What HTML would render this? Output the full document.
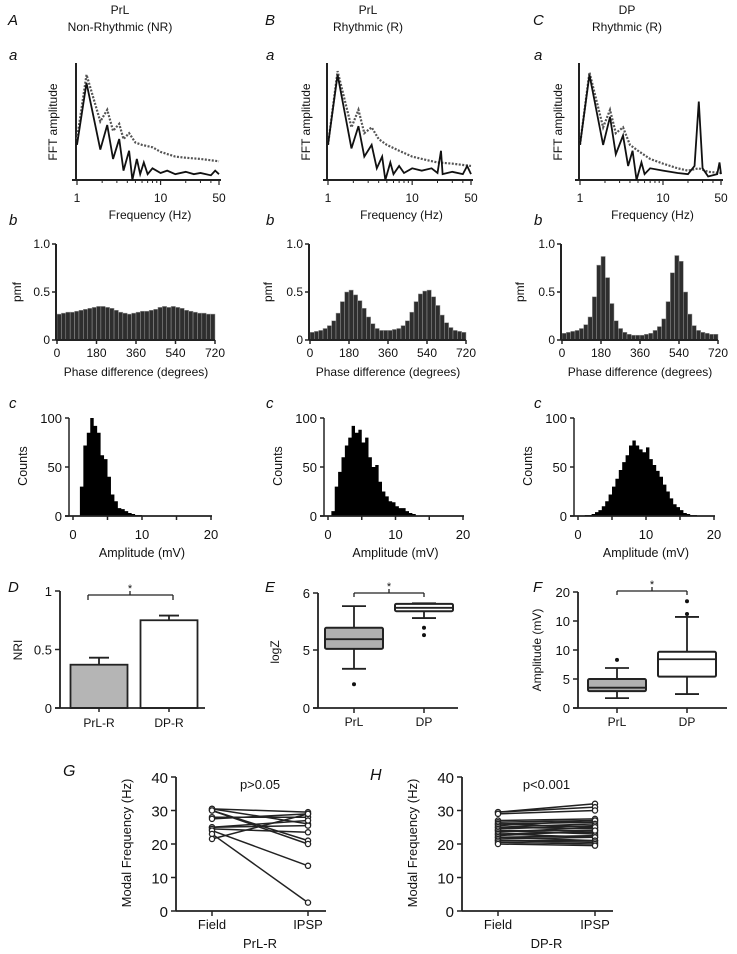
<!DOCTYPE html>
<html><head><meta charset="utf-8">
<style>
html,body{margin:0;padding:0;background:#fff;}
svg{display:block;font-family:"Liberation Sans",Arial,sans-serif;}
</style></head>
<body>
<svg id="fig" width="737" height="954" viewBox="0 0 737 954" xmlns="http://www.w3.org/2000/svg"></svg>
<script>
// ---------------- DATA ----------------
const fftFreqA = [1,1.3,1.9,2.3,2.7,3.2,3.6,4.2,4.6,5.2,5.7,6.3,7,8,10,12,15,20,25,30,40,45,50];
const fftSolidA = [0.3,0.83,0.26,0.47,0.18,0.35,0.08,0.25,0.0,0.18,0.05,0.15,0.05,0.1,0.06,0.08,0.05,0.07,0.05,0.06,0.04,0.08,0.05];
const fftDotFreqA = [1,1.3,1.9,2.3,2.7,3.2,3.6,4.2,5,6,8,10,15,20,30,50];
const fftDotA = [0.35,0.9,0.5,0.6,0.42,0.48,0.35,0.4,0.32,0.3,0.28,0.24,0.2,0.19,0.18,0.16];

const fftFreqB = [1,1.3,1.9,2.3,2.7,3.3,3.8,4.4,4.8,5.5,6,7,8,10,13,17,20,22,23,30,40,45,50];
const fftSolidB = [0.3,0.9,0.27,0.46,0.2,0.3,0.1,0.2,0.0,0.15,0.05,0.12,0.06,0.1,0.08,0.1,0.06,0.25,0.05,0.07,0.05,0.12,0.05];
const fftDotFreqB = [1,1.3,1.9,2.3,2.7,3.3,4,5,7,10,15,20,30,50];
const fftDotB = [0.3,0.93,0.45,0.6,0.4,0.45,0.35,0.3,0.25,0.2,0.17,0.15,0.14,0.12];

const fftFreqC = [1,1.3,1.9,2.3,2.7,3.3,3.8,4.3,4.8,5.5,6,7,10,15,20,24,27,30,35,45,48,50];
const fftSolidC = [0.3,0.9,0.3,0.54,0.22,0.38,0.12,0.25,0.0,0.15,0.05,0.1,0.08,0.06,0.05,0.12,0.67,0.1,0.03,0.05,0.15,0.05];
const fftDotFreqC = [1,1.3,1.9,2.3,2.7,3.3,4,5,7,10,15,20,27,35,50];
const fftDotC = [0.3,0.92,0.45,0.6,0.4,0.45,0.3,0.25,0.18,0.14,0.1,0.08,0.1,0.07,0.06];

const fftTicks = [1,10,50];
const fftTickLabels = ["1","10","50"];

const pmfA = [0.27,0.28,0.29,0.29,0.30,0.31,0.32,0.33,0.34,0.35,0.35,0.34,0.33,0.31,0.29,0.28,0.27,0.28,0.29,0.30,0.30,0.31,0.32,0.34,0.35,0.34,0.35,0.34,0.33,0.31,0.30,0.29,0.28,0.28,0.27,0.27];
const pmfB = [0.08,0.09,0.1,0.12,0.15,0.2,0.28,0.4,0.5,0.52,0.47,0.41,0.33,0.24,0.17,0.12,0.1,0.1,0.1,0.11,0.12,0.15,0.2,0.29,0.4,0.48,0.51,0.52,0.45,0.36,0.26,0.18,0.13,0.1,0.09,0.08];
const pmfC = [0.07,0.08,0.09,0.1,0.12,0.16,0.24,0.45,0.78,0.87,0.65,0.38,0.2,0.12,0.08,0.06,0.05,0.05,0.05,0.06,0.07,0.1,0.14,0.22,0.4,0.7,0.88,0.82,0.5,0.27,0.15,0.1,0.08,0.07,0.06,0.06];
const pmfTicks = [0,180,360,540,720];
const pmfYTicks = [0,0.5,1.0];
const pmfYLabels = ["0","0.5","1.0"];

const countsA = [0,0,30,72,85,100,92,85,62,58,40,22,15,8,7,5,3,2,1,1,0,0,0,0,0,0,0,0,0,0,0,0,0,0,0,0,0,0,0,0];
const countsB = [0,5,30,45,60,72,80,92,85,88,75,80,60,50,52,35,25,20,15,14,10,8,8,5,3,2,0,0,0,0,0,0,0,0,0,0,0,0,0,0];
const countsC = [0,0,1,1,2,4,6,10,15,22,30,38,47,55,62,72,77,72,68,65,70,58,52,46,40,32,25,18,12,9,6,3,2,1,1,0,0,0,0,0];
const countTicks = [0,10,20];
const countYTicks = [0,50,100];

const nriCats = ["PrL-R","DP-R"];
const nriMeans = [0.37,0.75];
const nriErr = [0.06,0.04];

const boxCats = ["PrL","DP"];
const logzQ = [[4.67,5.02,5.19,5.39,5.77],[5.56,5.68,5.74,5.81,5.82]];
const logzOut = [[4.4],[5.39,5.26]];
const ampQ = [[1.7,2.9,3.5,5.0,6.9],[2.4,5.4,8.4,9.7,15.7]];
const ampOut = [[8.3],[16.2,18.4]];
const ampTickVals = [0,5,10,15,20];
const ampTickLabels = ["0","5","10","10","20"];

const gField = [30.5,30.5,30,30,28,27.5,25,25,24.5,24,23,21.5];
const gIpsp  = [29.5,26,21,20,28,29,25.5,27,23.5,13.5,2.5,29];
const hField = [29.5,29.5,29,27,26.5,26,26,25.5,25,25,24.5,24,24,23.5,23,23,22.5,22,22,21.5,21,21,20.5,20];
const hIpsp  = [32,31,30,27.5,27,26.5,25,27,26,24.5,25.5,24,23,25,23.5,22,24,22.5,21,22,21,20.5,20,19.5];
const freqYTicks = [0,10,20,30,40];

// ---------------- HELPERS ----------------
const NS="http://www.w3.org/2000/svg";
const svg=document.getElementById('fig');
function mk(tag,attrs,parent){const e=document.createElementNS(NS,tag);for(const k in attrs)e.setAttribute(k,attrs[k]);(parent||svg).appendChild(e);return e;}
function txt(s,x,y,opt,parent){opt=opt||{};const e=mk('text',{x:x,y:y,'font-size':opt.size||12,'text-anchor':opt.anchor||'middle',fill:'#111'},parent);
 if(opt.italic)e.setAttribute('font-style','italic');
 if(opt.rot){e.setAttribute('transform','rotate(-90 '+x+' '+y+')');}
 e.textContent=s;return e;}
function line(x1,y1,x2,y2,w,parent,dash){const l=mk('line',{x1:x1,y1:y1,x2:x2,y2:y2,stroke:'#222','stroke-width':w||1.5},parent);if(dash)l.setAttribute('stroke-dasharray',dash);return l;}

// panel letters / titles
const headers=[[8,'A',120,'PrL','Non-Rhythmic (NR)'],[265,'B',368,'PrL','Rhythmic (R)'],[533,'C',627,'DP','Rhythmic (R)']];
headers.forEach(h=>{
 let t=txt(h[1],h[0],25,{size:15,italic:true,anchor:'start'});
 
 
 t=txt(h[3],h[2],14,{size:12});
 
 
 t=txt(h[4],h[2],31,{size:12});
 
 
 ['a','b','c'].forEach((s,i)=>{
  const yy=[60,225,408][i];
  const e=txt(s,h[0]+1,yy,{size:15,italic:true,anchor:'start'});
  
  
 });
});

// ---------------- FFT ----------------
function fftPanel(x0,x50,ytitleX,fs,ss,fd,sd,id){
 const g=mk('g',{});
 
 
 const top=63,bot=180;
 const xs=f=>x0+Math.log10(f)/Math.log10(50)*(x50-x0);
 const ys=v=>bot-v*(bot-top);
 line(x0-1,top,x0-1,bot,2,g);
 line(x0-5,bot,x50+2,bot,2,g);
 [2,3,4,5,6,7,8,9,20,30,40].forEach(f=>line(xs(f),bot,xs(f),bot+3,1,g));
 fftTicks.forEach((f,i)=>{line(xs(f),bot,xs(f),bot+5,1.2,g);
  const t=txt(fftTickLabels[i],xs(f),202,{size:12},g);
  
  });
 let t=txt('Frequency (Hz)',(x0+x50)/2+2,219,{size:12},g);
 
 
 t=txt('FFT amplitude',ytitleX,122,{size:12,rot:true},g);
 
 
 const pd=fd.map((f,i)=>xs(f)+','+ys(sd[i])).join(' ');
 const p1=mk('polyline',{points:pd,fill:'none',stroke:'#555','stroke-width':2.2,'stroke-dasharray':'2 1.5'},g);
 
 
 const ps=fs.map((f,i)=>xs(f)+','+ys(ss[i])).join(' ');
 const p2=mk('polyline',{points:ps,fill:'none',stroke:'#111','stroke-width':1.8},g);
 
 
}
fftPanel(77,219,57,fftFreqA,fftSolidA,fftDotFreqA,fftDotA,'a');
fftPanel(328,471,310,fftFreqB,fftSolidB,fftDotFreqB,fftDotB,'b');
fftPanel(580,721,562,fftFreqC,fftSolidC,fftDotFreqC,fftDotC,'c');

// ---------------- PMF ----------------
function pmfPanel(x0,x1,ytitleX,vals,id){
 const g=mk('g',{});
 
 
 const top=244,bot=340;
 const xs=d=>x0+d/720*(x1-x0);
 const ys=v=>bot-v*(bot-top);
 const bw=(x1-x0)/vals.length;
 vals.forEach((v,i)=>{
  const r=mk('rect',{x:xs(i*20),y:ys(v),width:bw,height:bot-ys(v),fill:'#2e2e2e',stroke:'#9a9a9a','stroke-width':0.5},g);
  
  
 });
 line(x0-1,top,x0-1,bot,2,g);
 line(x0-1,bot,x1,bot,2,g);
 pmfYTicks.forEach((v,i)=>{line(x0-5,ys(v),x0-1,ys(v),1.5,g);
  const t=txt(pmfYLabels[i],x0-7,ys(v)+4,{size:12,anchor:'end'},g);
  
  });
 pmfTicks.forEach(d=>{line(xs(d),bot,xs(d),bot+4,1.5,g);
  const t=txt(String(d),xs(d),357,{size:12},g);
  
  });
 let t=txt('Phase difference (degrees)',(x0+x1)/2,376,{size:12},g);
 
 
 t=txt('pmf',ytitleX,292,{size:12,rot:true},g);
 
 
}
pmfPanel(57,215,21,pmfA,'a');
pmfPanel(310,466,272,pmfB,'b');
pmfPanel(562,718,524,pmfC,'c');

// ---------------- COUNTS ----------------
function countPanel(x0,x20,ytitleX,vals,id){
 const g=mk('g',{});
 
 
 const top=418,bot=516;
 const xs=a=>x0+a/20*(x20-x0);
 const ys=v=>bot-v/100*(bot-top);
 let d='M'+xs(0)+','+bot;
 vals.forEach((v,i)=>{d+=' L'+xs(i*0.5)+','+ys(v)+' L'+xs((i+1)*0.5)+','+ys(v);});
 d+=' L'+xs(20)+','+bot+' Z';
 const p=mk('path',{d:d,fill:'#000'},g);
 
 
 line(x0-4,top,x0-4,bot,1.5,g);
 line(x0-8,bot,x20+1,bot,1.8,g);
 countYTicks.forEach(v=>{line(x0-8,ys(v),x0-4,ys(v),1.5,g);
  const t=txt(String(v),x0-11,ys(v)+5,{size:13,anchor:'end'},g);
  
  });
 [0,5,10,15,20].forEach(a=>line(xs(a),bot,xs(a),bot+4,1.5,g));
 countTicks.forEach(a=>{const t=txt(String(a),xs(a),539,{size:13},g);
  
  });
 let t=txt('Amplitude (mV)',(x0+x20)/2,557,{size:12.5},g);
 
 
 t=txt('Counts',ytitleX,466,{size:12.5,rot:true},g);
 
 
}
countPanel(73,211,27,countsA,'a');
countPanel(328,463,282,countsB,'b');
countPanel(578,714,532,countsC,'c');

// ---------------- D: NRI bars ----------------
(function(){
 const g=mk('g',{});
 
 
 const x0=60,bot=708,top=591;
 const ys=v=>bot-v*(bot-top);
 const cx=[99,169],bw=57;
 let t=txt('D',8,592,{size:15,italic:true,anchor:'start'},g);
 
 
 nriMeans.forEach((m,i)=>{
  line(cx[i],ys(m),cx[i],ys(m+nriErr[i]),1.8,g);
  line(cx[i]-10,ys(m+nriErr[i]),cx[i]+10,ys(m+nriErr[i]),1.8,g);
  const r=mk('rect',{x:cx[i]-bw/2,y:ys(m),width:bw,height:bot-ys(m),fill:i?'#fff':'#b5b5b5',stroke:'#222','stroke-width':1.8},g);
  
  
  line(cx[i],bot,cx[i],bot+4,1.5,g);
  const tl=txt(nriCats[i],cx[i],727,{size:12},g);
  
  
 });
 line(x0,top,x0,bot,1.8,g);
 line(x0-5,bot,205,bot,1.8,g);
 [[0,'0'],[0.5,'0.5'],[1,'1']].forEach(a=>{line(x0-5,ys(a[0]),x0,ys(a[0]),1.5,g);
  const tt=txt(a[1],x0-8,ys(a[0])+5,{size:13,anchor:'end'},g);
  
  });
 t=txt('NRI',22,650,{size:12,rot:true},g);
 
 
 line(88,595,173,595,1.3,g);line(88,595,88,600,1.3,g);line(173,595,173,600,1.3,g);line(130,595,130,591,1.3,g);
 t=txt('*',130,592,{size:11},g);
 
 
})();

// ---------------- Box plots ----------------
function boxPanel(opts){
 const g=mk('g',{});
 
 
 const {x0,x1,bot,ys,cx,bw,Q,O,letter,ly}=opts;
 let t=txt(letter,opts.lx,ly,{size:15,italic:true,anchor:'start'},g);
 
 
 Q.forEach((q,i)=>{
  const c=cx[i];
  line(c,ys(q[0]),c,ys(q[1]),1.8,g);line(c,ys(q[3]),c,ys(q[4]),1.8,g);
  line(c-12,ys(q[0]),c+12,ys(q[0]),1.8,g);line(c-12,ys(q[4]),c+12,ys(q[4]),1.8,g);
  const r=mk('rect',{x:c-bw/2,y:ys(q[3]),width:bw,height:Math.max(1,ys(q[1])-ys(q[3])),fill:i?'#fff':'#b0b0b0',stroke:'#222','stroke-width':2,rx:1.5},g);
  
  
  line(c-bw/2,ys(q[2]),c+bw/2,ys(q[2]),1.8,g);
  O[i].forEach(o=>{const ci=mk('circle',{cx:c,cy:ys(o),r:2,fill:'#111'},g);
   
   });
  line(c,bot,c,bot+5,1.5,g);
  const tl=txt(boxCats[i],c,726,{size:12},g);
  
  
 });
 line(x0,opts.top,x0,bot,1.8,g);
 line(x0-5,bot,x1,bot,1.8,g);
 opts.ticks.forEach(a=>{line(x0-5,a[0],x0,a[0],1.5,g);
  const tt=txt(a[1],x0-8,a[0]+5,{size:13,anchor:'end'},g);
  
  });
 t=txt(opts.ytitle,opts.ytx,opts.yty,{size:12,rot:true},g);
 
 
 const by=opts.brY;
 line(cx[0],by,cx[1],by,1.3,g);line(cx[0],by,cx[0],by+4,1.3,g);line(cx[1],by,cx[1],by+4,1.3,g);line((cx[0]+cx[1])/2,by,(cx[0]+cx[1])/2,by-4,1.3,g);
 t=txt('*',(cx[0]+cx[1])/2,by-3,{size:11},g);
 
 
}
const ysE=v=>593+(6-v)*57;
boxPanel({name:'logz-box-plot',x0:318,x1:458,bot:708,top:593,ys:ysE,cx:[354,424],bw:58,Q:logzQ,O:logzOut,letter:'E',lx:265,ly:592,
 ticks:[[593,'6'],[650,'5'],[708,'0']],ytitle:'logZ',ytx:279,yty:652,brY:593});
const ysF=v=>708-v*5.8;
boxPanel({name:'amplitude-box-plot',x0:578,x1:727,bot:708,top:592,ys:ysF,cx:[617,687],bw:58,Q:ampQ,O:ampOut,letter:'F',lx:533,ly:592,
 ticks:ampTickVals.map((v,i)=>[ysF(v),ampTickLabels[i]]),ytitle:'Amplitude (mV)',ytx:541,yty:650,brY:591});

// ---------------- G / H ----------------
function pairPanel(opts){
 const g=mk('g',{});
 
 
 const {x0,x1,fx,ix,F,I}=opts;
 const bot=911,top=777;
 const ys=v=>bot-v/40*(bot-top);
 let t=txt(opts.letter,opts.lx,opts.ly,{size:16,italic:true,anchor:'start'},g);
 
 
 F.forEach((f,i)=>{
  const l=line(fx,ys(f),ix,ys(I[i]),1.5,g);
  
  
  [[fx,f],[ix,I[i]]].forEach(p=>{const c=mk('circle',{cx:p[0],cy:ys(p[1]),r:2.6,fill:'#fff',stroke:'#222','stroke-width':1.3},g);
   
   });
 });
 line(x0,top,x0,bot,1.8,g);
 line(x0,bot,x1,bot,1.8,g);
 freqYTicks.forEach(v=>{line(x0-5,ys(v),x0,ys(v),1.5,g);
  const tt=txt(String(v),x0-8,ys(v)+6,{size:15,anchor:'end'},g);
  
  });
 [[fx,'Field'],[ix,'IPSP']].forEach(a=>{line(a[0],bot,a[0],bot+5,1.5,g);
  const tt=txt(a[1],a[0],929,{size:13},g);
  
  });
 t=txt(opts.xtitle,(fx+ix)/2,948,{size:13},g);
 
 
 t=txt('Modal Frequency (Hz)',opts.x0-45,843,{size:13,rot:true},g);
 
 
 t=txt(opts.p,(fx+ix)/2,789,{size:13},g);
 
 
}
pairPanel({name:'modal-frequency-prl',x0:176,x1:326,fx:212,ix:308,F:gField,I:gIpsp,letter:'G',lx:63,ly:776,xtitle:'PrL-R',p:'p>0.05'});
pairPanel({name:'modal-frequency-dp',x0:462,x1:613,fx:498,ix:595,F:hField,I:hIpsp,letter:'H',lx:370,ly:780,xtitle:'DP-R',p:'p<0.001'});
</script>
</body></html>
